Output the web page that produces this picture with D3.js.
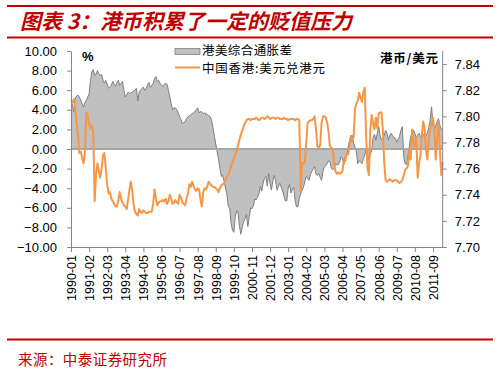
<!DOCTYPE html>
<html lang="zh-CN">
<head>
  <meta charset="utf-8">
  <title>港币积累了一定的贬值压力</title>
  <script src="https://d3js.org/d3.v7.min.js"></script>
  <style>
    body { margin: 0; background: #fff; }
    #chart text { font-family: "Liberation Sans", Arial, sans-serif; }
    #chart .cjk { font-family: "Noto Sans CJK SC", sans-serif; }
  </style>
</head>
<body>
<div id="chart"></div>
<script>
// 数据：1990-01 起的月度序列
var startYear = 1990, nMonths = 268
var months = []
for (var k = 0; k < nMonths; k++) {
  var yy = startYear + Math.floor(k / 12), mm = (k % 12) + 1
  months.push(yy + '-' + (mm < 10 ? '0' + mm : mm))
}

// 港美综合通胀差 (%)
var gap = [
  5.0, 4.5, 3.8, 5.2, 5.4, 5.5, 5.3, 5.0, 4.6, 4.3,
  4.7, 5.0, 5.3, 5.6, 7.0, 7.9, 8.1, 7.5, 7.6, 8.0,
  7.7, 7.5, 7.6, 7.0, 6.7, 7.0, 6.6, 6.2, 6.3, 6.5,
  6.9, 6.6, 6.4, 6.8, 7.0, 6.5, 6.7, 6.9, 6.0, 5.3,
  5.5, 5.8, 5.7, 5.7, 5.8, 5.9, 6.0, 6.2, 4.9, 5.8,
  6.0, 6.2, 6.3, 6.0, 6.1, 6.6, 6.8, 6.3, 6.5, 6.7,
  7.2, 7.4, 6.9, 7.0, 6.7, 6.5, 6.4, 6.6, 6.7, 6.6,
  6.0, 5.3, 4.6, 4.0, 4.2, 4.2, 4.0, 3.7, 3.3, 3.0,
  2.6, 2.7, 2.8, 3.1, 3.3, 3.4, 3.5, 3.6, 3.7, 3.8,
  4.0, 4.2, 3.7, 3.8, 3.8, 3.6, 3.7, 3.6, 3.5, 3.4,
  3.3, 2.9, 2.2, 1.3, 0.5, -0.3, -1.1, -2.0, -2.8, -2.7,
  -3.3, -4.0, -4.6, -5.9, -6.0, -7.6, -8.3, -8.5, -6.9, -6.3,
  -6.5, -7.9, -8.7, -8.0, -7.4, -7.1, -6.7, -7.9, -7.0, -6.0,
  -6.1, -5.8, -5.1, -5.2, -4.9, -4.6, -3.8, -4.3, -3.5, -3.0,
  -2.8, -3.8, -2.5, -3.6, -4.2, -3.2, -2.7, -3.3, -4.2, -3.8,
  -3.5, -3.9, -4.3, -4.8, -5.3, -5.3, -4.0, -3.6, -4.5, -4.1,
  -3.9, -5.3, -5.9, -5.9, -5.0, -4.6, -4.2, -3.9, -3.3, -2.8,
  -3.0, -3.2, -2.6, -2.3, -2.0, -1.8, -2.6, -2.7, -2.5, -2.9,
  -3.2, -2.3, -1.8, -1.7, -1.5, -1.2, -1.3, -2.0, -2.1, -2.0,
  -1.5, -1.6, -1.6, -1.3, -0.8, -1.0, -1.6, -0.8, -0.8, 0.2,
  0.8, 1.3, 1.4, 0.6, 0.2, -0.3, -1.5, -1.2, -1.3, -1.5,
  -1.0, -0.6, -0.1, -0.6, -1.1, -0.6, -0.1, 1.2, 1.5, 0.9,
  1.6, 2.3, 1.4, 0.9, 1.1, 1.4, 1.9, 1.6, 0.9, 1.4,
  1.6, 1.3, 1.2, 1.1, 0.7, 1.0, 1.3, 1.9, 2.3, -0.8,
  -1.5, -1.6, -0.8, 0.2, 1.3, 1.5, 1.9, 1.6, 1.1, 1.4,
  1.6, 1.3, 1.1, 1.4, 1.6, 1.4, 1.6, 2.2, 3.0, 4.3,
  2.5, 1.9, 2.4, 2.8, 3.1, 2.4, 2.0, 1.9
]

// 中国香港:美元兑港元
var hkd = [
  7.811, 7.811, 7.813, 7.806, 7.795, 7.786, 7.772, 7.773, 7.768, 7.764,
  7.772, 7.803, 7.800, 7.794, 7.791, 7.793, 7.787, 7.735, 7.756, 7.764,
  7.758, 7.753, 7.760, 7.770, 7.772, 7.760, 7.748, 7.741, 7.742, 7.737,
  7.735, 7.733, 7.731, 7.731, 7.736, 7.742, 7.737, 7.734, 7.732, 7.731,
  7.729, 7.736, 7.744, 7.750, 7.743, 7.732, 7.727, 7.725, 7.724, 7.729,
  7.727, 7.726, 7.728, 7.727, 7.726, 7.726, 7.727, 7.727, 7.727, 7.733,
  7.744, 7.737, 7.732, 7.734, 7.735, 7.735, 7.736, 7.735, 7.737, 7.733,
  7.735, 7.740, 7.737, 7.733, 7.734, 7.736, 7.734, 7.733, 7.740, 7.738,
  7.734, 7.733, 7.732, 7.737, 7.741, 7.748, 7.746, 7.750, 7.747, 7.744,
  7.743, 7.745, 7.744, 7.736, 7.731, 7.742, 7.745, 7.744, 7.747, 7.750,
  7.748, 7.747, 7.746, 7.746, 7.745, 7.744, 7.742, 7.745, 7.747, 7.748,
  7.749, 7.751, 7.754, 7.755, 7.758, 7.762, 7.765, 7.768, 7.771, 7.774,
  7.778, 7.782, 7.786, 7.789, 7.792, 7.795, 7.797, 7.798, 7.798, 7.797,
  7.798, 7.798, 7.798, 7.799, 7.798, 7.797, 7.798, 7.799, 7.799, 7.798,
  7.799, 7.800, 7.799, 7.798, 7.799, 7.799, 7.799, 7.798, 7.799, 7.799,
  7.798, 7.798, 7.798, 7.799, 7.798, 7.798, 7.797, 7.798, 7.798, 7.798,
  7.798, 7.797, 7.798, 7.798, 7.797, 7.742, 7.764, 7.764, 7.765, 7.780,
  7.795, 7.796, 7.797, 7.797, 7.798, 7.800, 7.790, 7.777, 7.776, 7.778,
  7.795, 7.800, 7.800, 7.799, 7.795, 7.788, 7.777, 7.776, 7.775, 7.764,
  7.758, 7.756, 7.757, 7.756, 7.757, 7.758, 7.767, 7.766, 7.771, 7.771,
  7.777, 7.785, 7.781, 7.784, 7.806, 7.810, 7.812, 7.818, 7.814, 7.811,
  7.819, 7.822, 7.785, 7.760, 7.755, 7.790, 7.801, 7.794, 7.790, 7.799,
  7.791, 7.802, 7.803, 7.803, 7.790, 7.765, 7.751, 7.750, 7.751, 7.752,
  7.751, 7.750, 7.751, 7.751, 7.751, 7.750, 7.749, 7.750, 7.751, 7.755,
  7.759, 7.760, 7.762, 7.774, 7.767, 7.790, 7.780, 7.776, 7.784, 7.753,
  7.764, 7.770, 7.785, 7.796, 7.791, 7.774, 7.767, 7.782, 7.791, 7.795,
  7.799, 7.789, 7.767, 7.784, 7.796, 7.774, 7.755, 7.765
]

var leftTicks = [-10, -8, -6, -4, -2, 0, 2, 4, 6, 8, 10]
var rightTicks = [7.70, 7.72, 7.74, 7.76, 7.78, 7.80, 7.82, 7.84]
var xTickLabels = months.filter(function (d, i) { return i % 13 === 0 })

var titleText = '图表 3：港币积累了一定的贬值压力'
var sourceText = '来源：中泰证券研究所'
var legendNames = ['港美综合通胀差', '中国香港:美元兑港元']

var W = 499, H = 373
var red = '#c00000', orange = '#f79646', axisGray = '#868686'
var plot = {left: 71, right: 442.7, top: 51, bottom: 247}

var svg = d3.select('#chart').append('svg')
  .attr('width', W).attr('height', H)
svg.append('rect').attr('width', W).attr('height', H).attr('fill', '#fff')

// 标题与红线
svg.append('line').attr('x1', 7).attr('x2', 493).attr('y1', 6).attr('y2', 6)
  .attr('stroke', red).attr('stroke-width', 2)
svg.append('line').attr('x1', 7).attr('x2', 493).attr('y1', 37.5).attr('y2', 37.5)
  .attr('stroke', red).attr('stroke-width', 2)
svg.append('text').attr('class', 'cjk')
  .attr('x', 20).attr('y', 29)
  .attr('fill', red)
  .attr('textLength', 332).attr('lengthAdjust', 'spacing')
  .style('font-size', '21px').style('font-weight', 'bold').style('font-style', 'italic')
  .text(titleText)

svg.append('line').attr('x1', 7).attr('x2', 493).attr('y1', 339.5).attr('y2', 339.5)
  .attr('stroke', red).attr('stroke-width', 2)
svg.append('text').attr('class', 'cjk')
  .attr('x', 18).attr('y', 365)
  .attr('fill', red)
  .attr('textLength', 149).attr('lengthAdjust', 'spacing')
  .style('font-size', '14.5px')
  .text(sourceText)

// 比例尺
var x = d3.scalePoint().domain(months).range([plot.left, plot.right])
var yL = d3.scaleLinear().domain([-10, 10]).range([plot.bottom, plot.top])
var yR = d3.scaleLinear().domain([7.70, 7.85]).range([plot.bottom, plot.top])

// 通胀差面积
var area = d3.area()
  .x(function (d, i) { return x(months[i]) })
  .y0(yL(0))
  .y1(function (d) { return yL(d) })
svg.append('path').datum(gap)
  .attr('d', area).attr('fill', '#c0c0c0')
svg.append('path').datum(gap)
  .attr('d', d3.line().x(function (d, i) { return x(months[i]) }).y(function (d) { return yL(d) }))
  .attr('fill', 'none').attr('stroke', '#7f7f7f').attr('stroke-width', 1)

// 零线
svg.append('line')
  .attr('x1', plot.left).attr('x2', plot.right)
  .attr('y1', yL(0)).attr('y2', yL(0))
  .attr('stroke', '#a6a6a6').attr('stroke-width', 2)

// 汇率线
svg.append('path').datum(hkd)
  .attr('d', d3.line().x(function (d, i) { return x(months[i]) }).y(function (d) { return yR(d) }))
  .attr('fill', 'none').attr('stroke', orange).attr('stroke-width', 2)
  .attr('stroke-linejoin', 'round')

// 坐标轴
function styleAxis(g) {
  g.selectAll('path, line').attr('stroke', axisGray)
  g.selectAll('text').attr('fill', '#000').style('font-size', '13px')
}
svg.append('g')
  .attr('transform', 'translate(' + plot.left + ',0)')
  .call(d3.axisLeft(yL).tickValues(leftTicks).tickFormat(d3.format('.2f'))
    .tickSize(4).tickSizeOuter(0).tickPadding(10))
  .call(styleAxis)
svg.append('g')
  .attr('transform', 'translate(' + plot.right + ',0)')
  .call(d3.axisRight(yR).tickValues(rightTicks).tickFormat(d3.format('.2f'))
    .tickSize(4).tickSizeOuter(0).tickPadding(8))
  .call(styleAxis)
  .select('.domain').attr('d', 'M0,' + plot.top + 'V' + plot.bottom)
svg.append('g')
  .attr('transform', 'translate(0,' + plot.bottom + ')')
  .call(d3.axisBottom(x).tickValues(xTickLabels).tickSize(5).tickSizeOuter(0))
  .call(styleAxis)
  .selectAll('text')
    .style('font-size', '12.5px')
    .style('text-anchor', 'end')
    .attr('y', 0)
    .attr('x', -8)
    .attr('dy', '0.35em')
    .attr('transform', 'rotate(-90)')

// 单位
svg.append('text').attr('x', 82).attr('y', 61)
  .style('font-size', '13px').style('font-weight', 'bold').text('%')
svg.append('text').attr('class', 'cjk').attr('x', 380).attr('y', 63)
  .attr('textLength', 58).attr('lengthAdjust', 'spacing')
  .style('font-size', '12.5px').style('font-weight', 'bold').text('港币/美元')

// 图例
var lg = svg.append('g')
lg.append('rect').attr('x', 175).attr('y', 48.5).attr('width', 25).attr('height', 6)
  .attr('fill', '#c0c0c0').attr('stroke', '#7f7f7f').attr('stroke-width', 0.8)
lg.append('line').attr('x1', 175).attr('x2', 200).attr('y1', 67.5).attr('y2', 67.5)
  .attr('stroke', orange).attr('stroke-width', 2)
lg.selectAll('text.leg').data(legendNames).enter().append('text')
  .attr('class', 'cjk leg')
  .attr('x', 202)
  .attr('y', function (d, i) { return i === 0 ? 54.5 : 72.5 })
  .attr('textLength', function (d, i) { return i === 0 ? 90 : 123 })
  .attr('lengthAdjust', 'spacing')
  .style('font-size', '12.5px')
  .attr('fill', '#000')
  .text(function (d) { return d })
</script>
</body>
</html>
